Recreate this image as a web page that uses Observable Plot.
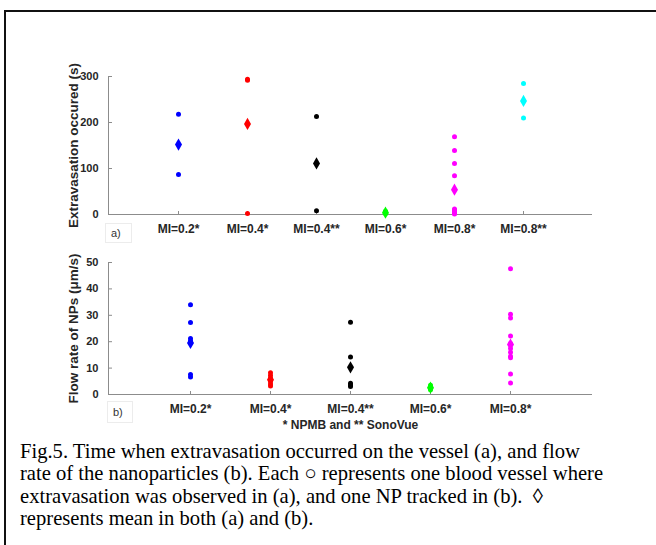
<!DOCTYPE html>
<html>
<head>
<meta charset="utf-8">
<script src="https://cdn.jsdelivr.net/npm/d3@7"></script>
<script src="https://cdn.jsdelivr.net/npm/@observablehq/plot@0.6"></script>
<style>
  html, body { margin: 0; padding: 0; background: #fff; width: 656px; height: 545px; overflow: hidden; position: relative; }
  #frame { position: absolute; left: 4px; top: 10px; width: 700px; height: 600px; border-top: 2px solid #111; border-left: 2px solid #111; }
  .panel { position: absolute; left: 0; }
  .tag { position: absolute; border: 1px solid #ececec; font-family: "Liberation Sans", Arial, sans-serif; font-size: 11px; color: #333; box-sizing: border-box; padding-left: 5px; }
  #caption { position: absolute; left: 20px; top: 439.6px; font-family: "Liberation Serif", "Times New Roman", serif; font-size: 20.6px; line-height: 22.6px; color: #000; white-space: nowrap; }
</style>
</head>
<body>
<div id="frame"></div>
<div id="tagA" class="tag" style="left:105px;top:223px;width:27px;height:20px;line-height:19px;">a)</div>
<div id="tagB" class="tag" style="left:107px;top:401px;width:26px;height:22px;line-height:21px;">b)</div>
<div id="top" class="panel" style="top:0px"></div>
<div id="bottom" class="panel" style="top:240px"></div>
<div id="caption">Fig.5. Time when extravasation occurred on the vessel (a), and flow<br>rate of the nanoparticles (b). Each ○ represents one blood vessel where<br>extravasation was observed in (a), and one NP tracked in (b).&nbsp; ◊<br>represents mean in both (a) and (b).</div>
<script>
// ---- Panel (a): time when extravasation occurred (s) ----
const catsA = ["MI=0.2*", "MI=0.4*", "MI=0.4**", "MI=0.6*", "MI=0.8*", "MI=0.8**"];
const colorsA = ["#0000ff", "#ff0000", "#000000", "#00ff00", "#ff00ff", "#00ffff"];
const a_MI02 = [218, 87];
const a_MI04 = [294, 292, 2];
const a_MI04ss = [213, 8];
const a_MI06 = [2, 4, 7];
const a_MI08 = [169, 139, 111, 84, 12, 9, 7, 5, 3, 1];
const a_MI08ss = [285, 210];
const meansA = [152, 197, 111, 4, 54, 247];
const yTicksA = [0, 100, 200, 300];

// ---- Panel (b): flow rate of NPs (um/s) ----
const catsB = ["MI=0.2*", "MI=0.4*", "MI=0.4**", "MI=0.6*", "MI=0.8*"];
const colorsB = ["#0000ff", "#ff0000", "#000000", "#00ff00", "#ff00ff"];
const b_MI02 = [34, 27.3, 21.2, 20.3, 7.6, 6.6];
const b_MI04 = [8.2, 7.2, 6.2, 5, 4, 3.2];
const b_MI04ss = [27.4, 14.2, 4.3, 3.6, 3];
const b_MI06 = [1.8, 2.5, 3.5];
const b_MI08 = [47.6, 30.4, 29, 22.2, 19.3, 17.4, 16, 14.5, 13.9, 7.8, 4.4];
const meansB = [19.5, 5.6, 10.3, 2.6, 18.9];
const yTicksB = [0, 10, 20, 30, 40, 50];

const groupsA = [a_MI02, a_MI04, a_MI04ss, a_MI06, a_MI08, a_MI08ss];
const groupsB = [b_MI02, b_MI04, b_MI04ss, b_MI06, b_MI08];
const toPts = (cats, groups) => groups.flatMap((g, i) => g.map(v => ({cat: cats[i], v})));
const toMeans = (cats, means) => means.map((v, i) => ({cat: cats[i], v}));

const axisGray = "#8c8c8c";
const textCol = "#262626";
const baseStyle = {fontFamily: "'Liberation Sans', Arial, sans-serif", fontSize: "11px", fontWeight: "bold", color: textCol, background: "transparent", overflow: "visible"};

function panel({cats, colors, groups, means, yDomain, yTicks, yLabel, xLabel, height, marginTop, marginBottom}) {
  return Plot.plot({
    width: 656, height, marginLeft: 108, marginRight: 64, marginTop, marginBottom,
    style: baseStyle,
    x: {type: "point", domain: cats, padding: 1},
    y: {domain: yDomain},
    color: {type: "ordinal", domain: cats, range: colors},
    marks: [
      Plot.ruleY([0], {stroke: axisGray, strokeWidth: 1}),
      Plot.frame({anchor: "left", stroke: axisGray}),
      Plot.axisX({tickSize: -3, tickPadding: 13, stroke: axisGray, fill: textCol, fontWeight: "bold", fontSize: 12,
        label: null}),
      Plot.axisY({ticks: yTicks, tickSize: -4, tickPadding: 14, stroke: axisGray, fill: textCol, fontWeight: "bold",
        label: null}),
      Plot.axisY({ticks: [], tickSize: 0, fill: textCol, fontWeight: "bold", fontSize: 13.5,
        label: yLabel, labelAnchor: "center", labelOffset: 40, labelArrow: "none"}),
      ...(xLabel ? [Plot.axisX({ticks: [], tickSize: 0, fill: textCol, fontWeight: "bold", fontSize: 12,
        label: xLabel, labelAnchor: "center", labelOffset: 34, labelArrow: "none"})] : []),
      Plot.dot(toPts(cats, groups), {x: "cat", y: "v", fill: "cat", r: 2.5}),
      Plot.dot(toMeans(cats, means), {x: "cat", y: "v", fill: "cat", symbol: "diamond", r: 3.7})
    ]
  });
}

document.getElementById("top").append(panel({
  cats: catsA, colors: colorsA, groups: groupsA, means: meansA,
  yDomain: [0, 300], yTicks: yTicksA, yLabel: "Extravasation occured (s)", xLabel: null,
  height: 245, marginTop: 76, marginBottom: 31
}));
document.getElementById("bottom").append(panel({
  cats: catsB, colors: colorsB, groups: groupsB, means: meansB,
  yDomain: [0, 50], yTicks: yTicksB, yLabel: "Flow rate of NPs (μm/s)", xLabel: "* NPMB and ** SonoVue",
  height: 200, marginTop: 22, marginBottom: 46
}));
</script>
</body>
</html>
